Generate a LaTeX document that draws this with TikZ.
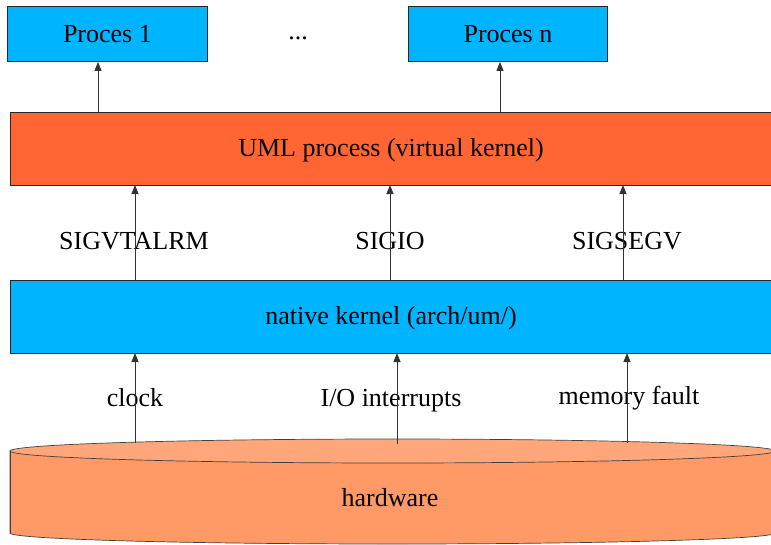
\documentclass[tikz,border=0pt]{standalone}
\usepackage{fontspec}
\setmainfont{Liberation Serif}
\usetikzlibrary{arrows.meta}
\definecolor{procblue}{HTML}{00B5FF}
\definecolor{umlred}{HTML}{FF6633}
\definecolor{hwtop}{HTML}{FFA77A}
\definecolor{hwbody}{HTML}{FF9966}
\begin{document}
\begin{tikzpicture}[x=1pt,y=-1pt,
  txt/.style={font=\fontsize{26}{29}\selectfont, inner sep=0pt},
  boxstyle/.style={draw=black!85, line width=0.9pt},
  up/.style={draw=black!80, line width=0.9pt, -{Triangle[length=9pt,width=7pt]}}]
\useasboundingbox (0,0) rectangle (771,544);
% top process boxes
\node[boxstyle, fill=procblue, minimum width=200pt, minimum height=55pt, anchor=north west, inner sep=0pt] (p1) at (7,6) {};
\node[txt] at (p1.center) {Proces 1};
\node[boxstyle, fill=procblue, minimum width=199pt, minimum height=55pt, anchor=north west, inner sep=0pt] (pn) at (408,6) {};
\node[txt] at (pn.center) {Proces n};
\node[txt] (dots) at (298,38) {...};
% virtual kernel layer
\path[boxstyle, fill=umlred] (10,112) rectangle (775,185);
\node[txt] (uml) at (391,150) {UML process (virtual kernel)};
% native kernel layer
\path[boxstyle, fill=procblue] (10,280) rectangle (775,353);
\node[txt] (nat) at (391,318) {native kernel (arch/um/)};
% hardware cylinder
\path[fill=hwbody, draw=black!75, line width=0.7pt]
  (10,451) -- (10,533) arc[start angle=180, end angle=360, x radius=382.5pt, y radius=11pt]
  -- (775,451);
\path[fill=hwtop, draw=black!75, line width=0.7pt] (392.5,451) ellipse[x radius=382.5pt, y radius=12pt];
\draw[draw=black!75, line width=0.7pt] (10,451) -- (10,533);
\node[txt] (hw) at (390,498) {hardware};
% signal and interrupt labels
\node[txt] (sv) at (134,241) {SIGVTALRM};
\node[txt] (sio) at (390,241) {SIGIO};
\node[txt] (ssg) at (627,241) {SIGSEGV};
\node[txt] (clk) at (135,398) {clock};
\node[txt] (io) at (391,401) {I/O interrupts};
\node[txt] (mf) at (629,398) {memory fault};
% arrow end points on the layer edges
\coordinate (u1) at (98,112);   \coordinate (un) at (500,112);
\coordinate (ub1) at (135,185); \coordinate (ub2) at (390,185); \coordinate (ub3) at (623,185);
\coordinate (nt1) at (135,280); \coordinate (nt2) at (390,280); \coordinate (nt3) at (623,280);
\coordinate (nb1) at (135,353); \coordinate (nb2) at (397,353); \coordinate (nb3) at (627,353);
\coordinate (h1) at (135,443);  \coordinate (h2) at (397,444);  \coordinate (h3) at (627,443);
% connectors
\draw[up] (u1) -- (p1.south -| u1);
\draw[up] (un) -- (pn.south -| un);
\draw[up] (nt1) -- (ub1);
\draw[up] (nt2) -- (ub2);
\draw[up] (nt3) -- (ub3);
\draw[up] (h1) -- (nb1);
\draw[up] (h2) -- (nb2);
\draw[up] (h3) -- (nb3);
\end{tikzpicture}
\end{document}
